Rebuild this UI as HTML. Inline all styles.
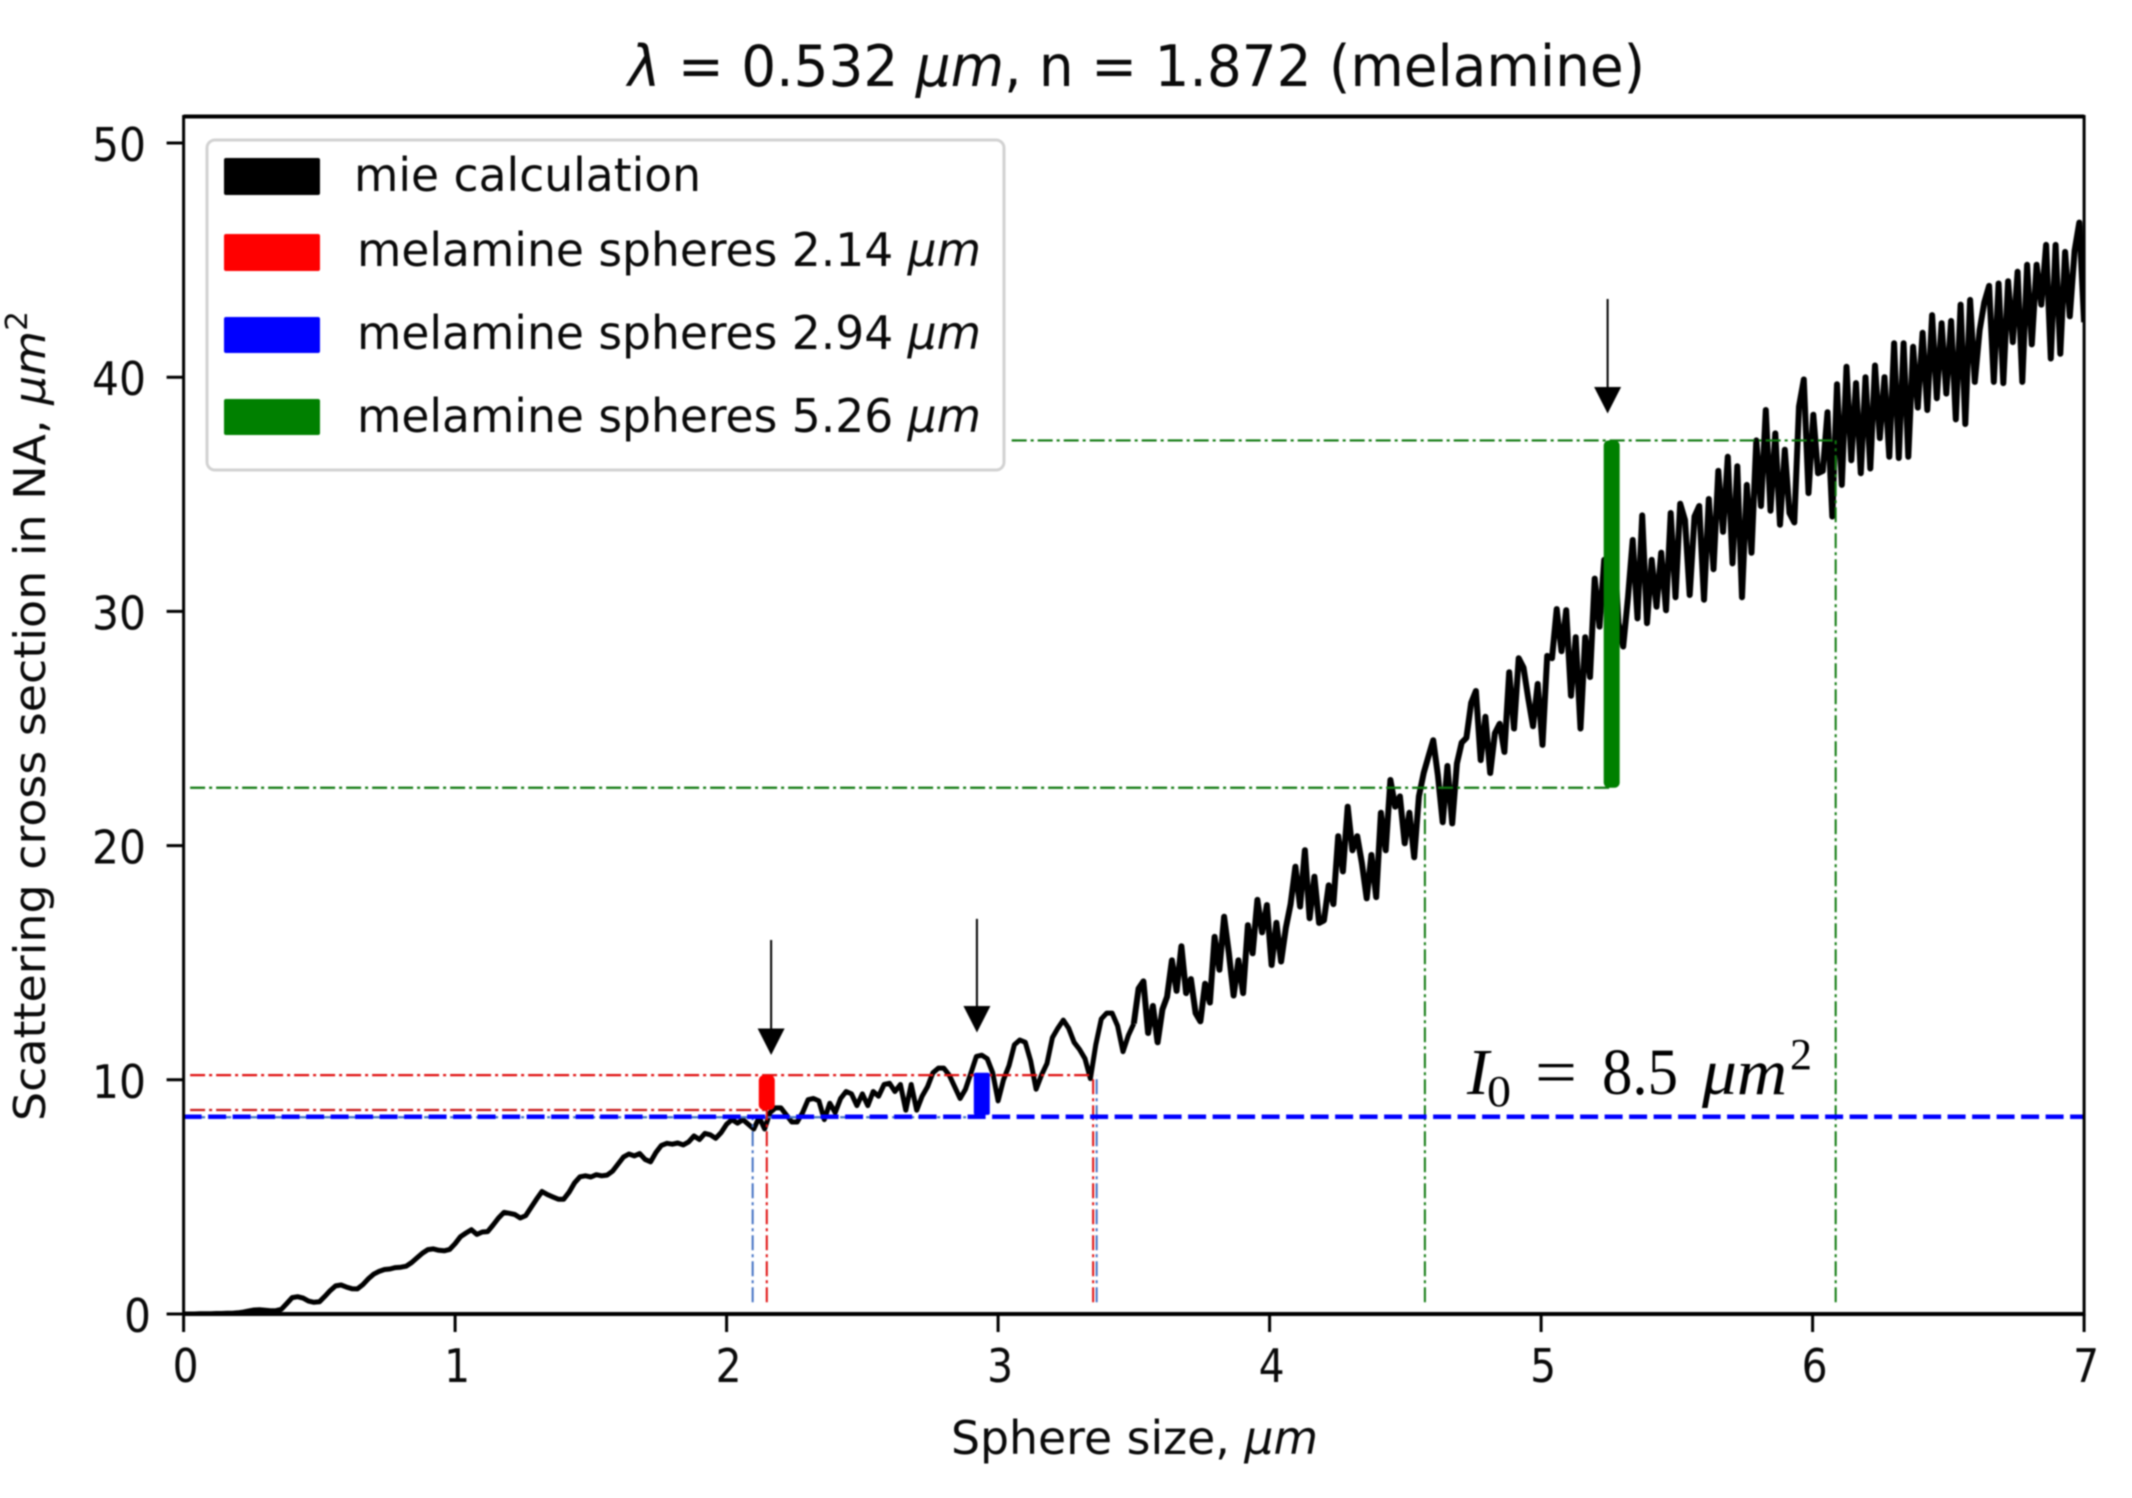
<!DOCTYPE html>
<html lang="en">
<head>
<meta charset="utf-8">
<title>Scattering cross section of melamine spheres</title>
<style>
html,body{margin:0;padding:0;background:#fff;width:2132px;height:1498px;overflow:hidden}
svg{display:block;filter:blur(0.85px)}
text{font-family:"DejaVu Sans","Liberation Sans",sans-serif;fill:#0a0a0a}
.serif{font-family:"Liberation Serif",serif;fill:#000}
</style>
</head>
<body>
<svg id="chart" xmlns="http://www.w3.org/2000/svg" width="2132" height="1498" viewBox="0 0 2132 1498">
  <defs><clipPath id="plot-clip"><rect x="184" y="117" width="1900" height="1197"/></clipPath></defs>
  <rect x="0" y="0" width="2132" height="1498" fill="#fff"/>
  <text x="628" y="86" font-size="57" textLength="1017" lengthAdjust="spacingAndGlyphs"><tspan font-style="italic">λ</tspan> = 0.532 <tspan font-style="italic">μm</tspan>, n = 1.872 (melamine)</text>
  <g id="curve-layer" clip-path="url(#plot-clip)"></g>
  <g id="guide-layer"></g>
  <g id="band-layer"></g>
  <g id="arrow-layer"></g>
  <g id="axis-layer"></g>
  <text x="951" y="1454" font-size="46" textLength="367" lengthAdjust="spacingAndGlyphs">Sphere size, <tspan font-style="italic">μm</tspan></text>
  <text transform="translate(45,1121) rotate(-90)" font-size="44" textLength="810" lengthAdjust="spacingAndGlyphs">Scattering cross section in NA, <tspan font-style="italic">μm</tspan><tspan font-size="30" dy="-18">2</tspan></text>
  <g>
    <text class="serif" x="1467" y="1094" font-size="66" font-style="italic">I</text>
    <text class="serif" x="1487" y="1106" font-size="44" textLength="24" lengthAdjust="spacingAndGlyphs">0</text>
    <text class="serif" x="1535" y="1094" font-size="66" textLength="42" lengthAdjust="spacingAndGlyphs">=</text>
    <text class="serif" x="1602" y="1094" font-size="66" textLength="76" lengthAdjust="spacingAndGlyphs">8.5</text>
    <text class="serif" x="1702" y="1094" font-size="66" font-style="italic" textLength="85" lengthAdjust="spacingAndGlyphs">μm</text>
    <text class="serif" x="1790" y="1069" font-size="44" textLength="22" lengthAdjust="spacingAndGlyphs">2</text>
  </g>
  <g>
    <rect x="207" y="140" width="797" height="330" rx="8" ry="8" fill="#fff" stroke="#d2d2d2" stroke-width="3"/>
    <rect x="224" y="158" width="96" height="37" rx="2" fill="#000"/>
    <text x="354" y="191" font-size="46" textLength="347" lengthAdjust="spacingAndGlyphs">mie calculation</text>
    <rect x="224" y="234" width="96" height="37" rx="2" fill="#ff0000"/>
    <text x="357" y="266" font-size="46" textLength="624" lengthAdjust="spacingAndGlyphs">melamine spheres 2.14 <tspan font-style="italic">μm</tspan></text>
    <rect x="224" y="317" width="96" height="36" rx="2" fill="#0000ff"/>
    <text x="357" y="349" font-size="46" textLength="624" lengthAdjust="spacingAndGlyphs">melamine spheres 2.94 <tspan font-style="italic">μm</tspan></text>
    <rect x="224" y="399" width="96" height="36" rx="2" fill="#008000"/>
    <text x="357" y="432" font-size="46" textLength="624" lengthAdjust="spacingAndGlyphs">melamine spheres 5.26 <tspan font-style="italic">μm</tspan></text>
  </g>
</svg>
<script>
// Tick labels
const xTickLabels = ["0","1","2","3","4","5","6","7"];
const yTickLabels = ["0","10","20","30","40","50"];

// Mie curve values: fine part (0 to 3.5 um) and dense part (3.5 to 7 um)
const fineStep = 0.02;
const fineCrossSection = [
0,0,0,0.01,0.01,0.01,0.02,0.02,0.03,0.03,
0.05,0.08,0.13,0.17,0.18,0.16,0.14,0.14,0.2,0.45,
0.7,0.74,0.68,0.55,0.5,0.52,0.75,1.0,1.2,1.24,
1.15,1.08,1.07,1.25,1.5,1.7,1.82,1.9,1.92,1.98,
2.0,2.04,2.2,2.4,2.6,2.75,2.78,2.72,2.7,2.76,
3.0,3.3,3.46,3.6,3.4,3.5,3.52,3.8,4.1,4.34,
4.3,4.25,4.1,4.2,4.55,4.9,5.23,5.1,5.0,4.9,
4.9,5.2,5.6,5.86,5.9,5.85,5.95,5.9,5.93,6.1,
6.4,6.7,6.83,6.75,6.85,6.6,6.5,6.9,7.2,7.29,
7.25,7.3,7.22,7.35,7.6,7.45,7.71,7.65,7.5,7.75,
8.1,8.3,8.15,8.3,8.1,7.9,8.4,7.9,8.6,8.8,
8.8,8.5,8.2,8.2,8.6,9.15,9.2,9.1,8.3,9.0,
8.6,9.2,9.5,9.4,8.9,9.4,8.9,9.5,9.3,9.8,
9.85,9.5,9.8,8.7,9.8,8.7,9.3,9.7,10.3,10.5,
10.5,10.2,9.7,9.2,9.6,10.3,11.0,11.05,10.9,10.3,
9.1,10.0,10.6,11.5,11.7,11.6,10.8,9.6,10.2,10.7,
11.8,12.2,12.55,12.2,11.6,11.3,10.9,10.05,11.5,12.6,
12.85,12.85,12.3,11.2,11.9
];
const denseStart = 3.5;
const denseStep = 0.0175;
const denseCrossSection = [
12.4,13.9,14.2,12.0,13.15,11.6,13.0,13.55,15.1,13.8,15.7,13.7,14.3,12.85,12.5,14.1,13.3,16.1,14.7,16.96,
15.4,13.6,15.1,13.7,16.6,15.4,17.68,16.3,17.46,14.9,16.7,15.05,16.5,17.5,19.1,17.4,19.8,16.9,18.67,16.7,
16.8,18.3,17.5,20.4,18.9,21.66,19.8,20.4,19.25,17.75,19.6,17.8,21.4,19.8,22.8,21.66,22.1,20.1,21.4,19.5,
22.1,23.1,23.8,24.5,23.0,21.0,23.4,20.95,23.5,24.4,24.6,26.1,26.6,23.65,25.5,23.1,24.8,25.2,24.0,27.4,
25.0,28.0,27.6,26.3,25.1,26.9,24.3,28.1,28.0,30.1,28.3,30.05,26.4,28.9,25.0,28.9,27.2,31.4,29.35,32.2,
30.0,33.0,29.5,28.5,30.6,33.05,
29.7,34.1,29.5,32.2,30.2,32.5,30.05,34.2,30.6,34.6,33.9,30.7,34.05,34.5,30.5,34.8,31.8,36.0,33.4,36.6,
32.05,36.2,30.6,35.4,32.5,37.3,34.5,38.6,34.3,37.6,33.7,36.9,34.2,33.8,38.75,39.9,35.05,38.4,35.9,36.0,
38.5,34.05,39.7,35.4,40.45,36.45,39.75,
35.9,40.0,36.1,40.5,37.4,40.0,36.6,41.45,36.55,41.45,36.6,41.3,38.7,41.9,38.6,42.65,39.1,42.3,39.3,42.4,
38.2,43.1,38.0,43.3,39.8,42.0,43.2,43.9,39.8,44.0,39.75,44.1,41.5,44.5,39.8,44.8,41.4,44.8,43.1,45.65,
40.8,45.65,41.0,45.35,42.6,45.4,46.6,42.35
];

// Measured sphere bands
const bandSizes = [2.148, 2.94, 5.26];
const bandLow = [8.71, 8.5, 22.47];
const bandHigh = [10.2, 10.3, 37.3];
const bandColors = ["#ff0000", "#0000ff", "#008000"];
const bandNames = ["red", "blue", "green"];

// Guide-line values
const guideFloor = 0.5;
const horizontalLevels = [10.2, 8.71, 22.47, 37.3, 8.4];
const horizontalStarts = [0.024, 0.024, 0.024, 3.05, 0.024];
const horizontalEnds = [3.35, 2.148, 5.26, 6.08, 2.94];
const horizontalColors = ["#e01010", "#c81818", "#107a10", "#107a10", "#4472c4"];
const verticalSizes = [2.148, 3.35, 2.096, 3.363, 4.572, 6.085];
const verticalTops = [8.71, 10.2, 8.4, 10.2, 22.47, 37.3];
const verticalColors = ["#e01010", "#e01010", "#4472c4", "#4472c4", "#107a10", "#107a10"];
const incidentLevel = 8.42;

// Arrows: pointed size, tip value, tail value
const arrowSizes = [2.164, 2.922, 5.245];
const arrowTips = [11.06, 12.02, 38.45];
const arrowTails = [15.97, 16.87, 43.34];

const SVG_NS = "http://www.w3.org/2000/svg";
const xScale = v => 183.6 + 271.5 * v;
const yScale = v => 1314 - 23.42 * v;
const make = (parent, tag) => {
  const n = document.createElementNS(SVG_NS, tag);
  parent.appendChild(n);
  return n;
};
const curveLayer = document.getElementById("curve-layer");
const guideLayer = document.getElementById("guide-layer");
const bandLayer = document.getElementById("band-layer");
const arrowLayer = document.getElementById("arrow-layer");
const axisLayer = document.getElementById("axis-layer");

// Curve: the two parts share one joint and differ only in line weight
const finePoints = fineCrossSection.map((v, i) => xScale(i * fineStep).toFixed(1) + "," + yScale(v).toFixed(1));
const densePoints = denseCrossSection.map((v, i) => xScale(denseStart + i * denseStep).toFixed(1) + "," + yScale(v).toFixed(1));
const curveFine = make(curveLayer, "polyline");


curveFine.setAttribute("points", finePoints.concat(densePoints[0]).join(" "));
curveFine.setAttribute("fill", "none");
curveFine.setAttribute("stroke", "#000");
curveFine.setAttribute("stroke-width", "5");
curveFine.setAttribute("stroke-linejoin", "round");
const curveDense = make(curveLayer, "polyline");


curveDense.setAttribute("points", densePoints.join(" "));
curveDense.setAttribute("fill", "none");
curveDense.setAttribute("stroke", "#000");
curveDense.setAttribute("stroke-width", "6");
curveDense.setAttribute("stroke-linejoin", "round");

// Dash-dot guides
horizontalLevels.forEach((level, i) => {
  const g = make(guideLayer, "line");
  
  
  g.setAttribute("x1", xScale(horizontalStarts[i]));
  g.setAttribute("x2", xScale(horizontalEnds[i]));
  g.setAttribute("y1", yScale(level));
  g.setAttribute("y2", yScale(level));
  g.setAttribute("stroke", horizontalColors[i]);
  g.setAttribute("stroke-width", "2.2");
  g.setAttribute("stroke-dasharray", "15 4 3 4");
});
verticalSizes.forEach((size, i) => {
  const g = make(guideLayer, "line");
  
  
  g.setAttribute("x1", xScale(size));
  g.setAttribute("x2", xScale(size));
  g.setAttribute("y1", yScale(guideFloor));
  g.setAttribute("y2", yScale(verticalTops[i]));
  g.setAttribute("stroke", verticalColors[i]);
  g.setAttribute("stroke-width", "2");
  g.setAttribute("stroke-dasharray", "15 4 3 4");
});
const incident = make(guideLayer, "line");


incident.setAttribute("x1", xScale(0));
incident.setAttribute("x2", xScale(7));
incident.setAttribute("y1", yScale(incidentLevel));
incident.setAttribute("y2", yScale(incidentLevel));
incident.setAttribute("stroke", "#0000ff");
incident.setAttribute("stroke-width", "4.5");
incident.setAttribute("stroke-dasharray", "18 6.5");

// Thick bands
bandSizes.forEach((size, i) => {
  const b = make(bandLayer, "rect");
  
  
  const top = yScale(bandHigh[i]);
  const bottom = yScale(bandLow[i]);
  b.setAttribute("x", xScale(size) - 8);
  b.setAttribute("y", top);
  b.setAttribute("width", 16);
  b.setAttribute("height", bottom - top);
  b.setAttribute("rx", i === 1 ? 2 : 5);
  b.setAttribute("fill", bandColors[i]);
});

// Arrows
arrowSizes.forEach((size, i) => {
  const cx = xScale(size);
  const tip = yScale(arrowTips[i]);
  const shaft = make(arrowLayer, "line");
  
  
  shaft.setAttribute("x1", cx);
  shaft.setAttribute("x2", cx);
  shaft.setAttribute("y1", yScale(arrowTails[i]));
  shaft.setAttribute("y2", tip - 20);
  shaft.setAttribute("stroke", "#000");
  shaft.setAttribute("stroke-width", "2");
  const head = make(arrowLayer, "polygon");
  
  
  head.setAttribute("points", (cx - 13.5) + "," + (tip - 26.5) + " " + (cx + 13.5) + "," + (tip - 26.5) + " " + cx + "," + tip);
  head.setAttribute("fill", "#000");
});

// Frame: side spines are lighter than the top and bottom ones
const frame = make(axisLayer, "rect");


frame.setAttribute("x", xScale(0));
frame.setAttribute("y", 116.5);
frame.setAttribute("width", xScale(7) - xScale(0));
frame.setAttribute("height", yScale(0) - 116.5);
frame.setAttribute("fill", "none");
frame.setAttribute("stroke", "#000");
frame.setAttribute("stroke-width", "3");
const topSpine = make(axisLayer, "line");


topSpine.setAttribute("x1", xScale(0));
topSpine.setAttribute("x2", xScale(7));
topSpine.setAttribute("y1", 116.5);
topSpine.setAttribute("y2", 116.5);
topSpine.setAttribute("stroke", "#000");
topSpine.setAttribute("stroke-width", "4");
const bottomSpine = make(axisLayer, "line");


bottomSpine.setAttribute("x1", xScale(0));
bottomSpine.setAttribute("x2", xScale(7));
bottomSpine.setAttribute("y1", yScale(0));
bottomSpine.setAttribute("y2", yScale(0));
bottomSpine.setAttribute("stroke", "#000");
bottomSpine.setAttribute("stroke-width", "4");

// Axis ticks and labels
xTickLabels.forEach(label => {
  const px = xScale(Number(label));
  const t = make(axisLayer, "line");
  
  
  t.setAttribute("x1", px);
  t.setAttribute("x2", px);
  t.setAttribute("y1", yScale(0));
  t.setAttribute("y2", yScale(0) + 18);
  t.setAttribute("stroke", "#000");
  t.setAttribute("stroke-width", "3");
  const l = make(axisLayer, "text");
  
  
  l.setAttribute("x", px + 2);
  l.setAttribute("y", 1382);
  l.setAttribute("font-size", "46");
  l.setAttribute("text-anchor", "middle");
  l.setAttribute("textLength", 26 * label.length);
  l.setAttribute("lengthAdjust", "spacingAndGlyphs");
  l.textContent = label;
});
yTickLabels.forEach(label => {
  const py = yScale(Number(label));
  const t = make(axisLayer, "line");
  
  
  t.setAttribute("x1", xScale(0) - 17);
  t.setAttribute("x2", xScale(0));
  t.setAttribute("y1", py);
  t.setAttribute("y2", py);
  t.setAttribute("stroke", "#000");
  t.setAttribute("stroke-width", "3");
  const l = make(axisLayer, "text");
  
  
  l.setAttribute("x", label === "0" ? 151 : 146);
  l.setAttribute("y", py + 18);
  l.setAttribute("font-size", "46");
  l.setAttribute("text-anchor", "end");
  l.setAttribute("textLength", 27 * label.length);
  l.setAttribute("lengthAdjust", "spacingAndGlyphs");
  l.textContent = label;
});
</script>
</body>
</html>
